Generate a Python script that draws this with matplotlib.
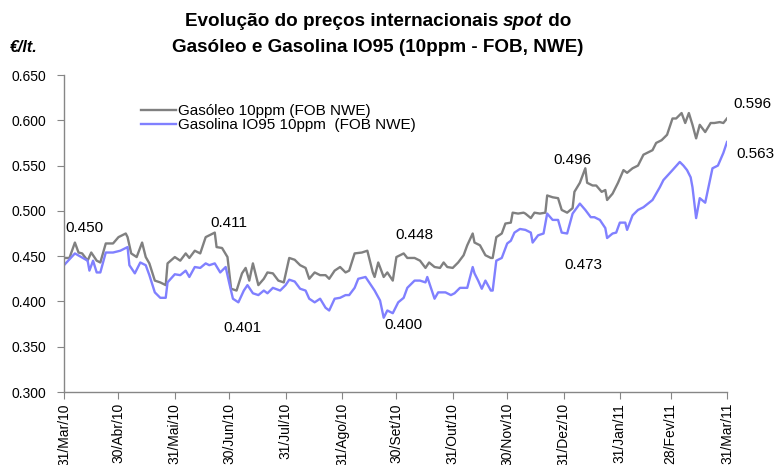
import numpy as np
import pandas as pd
import matplotlib
matplotlib.use("Agg")
import matplotlib.pyplot as plt
from matplotlib.ticker import FormatStrFormatter

# data (days counted from 31/Mar/10, prices in EUR/lt)
start = pd.Timestamp("2010-03-31")

gas_day = [0, 3, 6, 8, 10, 13, 15, 18, 20, 23, 27, 30, 34, 35, 37, 40, 43, 45, 47, 50,
           53, 56, 57, 61, 64, 67, 69, 72, 75, 78, 80, 83, 84, 87, 90, 92, 95, 98, 100, 102,
           104, 107, 110, 112, 115, 118, 121, 124, 127, 130, 133, 135, 138, 141, 144, 146, 149, 152, 155, 157,
           160, 164, 167, 170, 171, 173, 176, 178, 181, 183, 187, 189, 193, 196, 199, 201, 204, 207, 209, 211,
           214, 217, 220, 222, 225, 226, 229, 232, 235, 236, 238, 241, 243, 246, 247, 250, 253, 254, 257, 259,
           262, 265, 266, 269, 272, 274, 277, 280, 281, 284, 287, 288, 291, 293, 296, 298, 299, 302, 305, 308,
           310, 313, 316, 319, 321, 324, 326, 329, 332, 335, 337, 340, 342, 344, 346, 348, 350, 353, 356, 358,
           361, 363, 365]
gas_val = [0.448, 0.448, 0.465, 0.454, 0.453, 0.445, 0.454, 0.445, 0.443, 0.464, 0.464, 0.471, 0.475, 0.471, 0.453, 0.449, 0.465, 0.449, 0.442, 0.423,
           0.421, 0.418, 0.442, 0.449, 0.445, 0.453, 0.448, 0.456, 0.453, 0.471, 0.473, 0.476, 0.460, 0.459, 0.449, 0.414, 0.412, 0.431, 0.437, 0.423,
           0.442, 0.418, 0.425, 0.432, 0.431, 0.423, 0.421, 0.448, 0.446, 0.440, 0.437, 0.425, 0.432, 0.429, 0.429, 0.425, 0.434, 0.438, 0.432, 0.434,
           0.453, 0.454, 0.456, 0.432, 0.427, 0.443, 0.427, 0.432, 0.423, 0.449, 0.453, 0.448, 0.448, 0.445, 0.437, 0.443, 0.438, 0.437, 0.443, 0.438,
           0.437, 0.443, 0.451, 0.462, 0.475, 0.465, 0.462, 0.451, 0.448, 0.448, 0.471, 0.475, 0.486, 0.487, 0.498, 0.497, 0.498, 0.497, 0.492, 0.498,
           0.497, 0.498, 0.517, 0.515, 0.514, 0.501, 0.498, 0.503, 0.521, 0.531, 0.547, 0.531, 0.528, 0.528, 0.521, 0.523, 0.512, 0.519, 0.531, 0.545,
           0.542, 0.547, 0.550, 0.562, 0.564, 0.567, 0.575, 0.578, 0.584, 0.602, 0.602, 0.608, 0.597, 0.608, 0.595, 0.580, 0.595, 0.587, 0.597, 0.597,
           0.598, 0.597, 0.602]

pet_day = [0, 6, 13, 14, 16, 18, 20, 23, 27, 31, 35, 36, 39, 42, 45, 47, 50, 53, 56, 57,
           61, 64, 67, 69, 72, 75, 78, 80, 83, 86, 89, 91, 93, 96, 99, 101, 104, 107, 110, 112,
           115, 119, 122, 124, 127, 130, 133, 135, 138, 141, 144, 146, 149, 152, 155, 157, 160, 162, 166, 168,
           171, 174, 176, 178, 181, 184, 187, 189, 193, 196, 199, 200, 203, 204, 206, 210, 213, 215, 218, 222,
           225, 226, 228, 230, 232, 235, 236, 238, 241, 244, 246, 248, 251, 254, 257, 258, 261, 264, 266, 269,
           272, 274, 277, 280, 284, 287, 290, 292, 295, 298, 299, 302, 304, 306, 309, 310, 313, 316, 319, 324,
           328, 330, 335, 339, 341, 343, 345, 346, 348, 350, 353, 355, 357, 360, 363, 365]
pet_val = [0.440, 0.453, 0.445, 0.434, 0.445, 0.432, 0.432, 0.454, 0.454, 0.456, 0.460, 0.440, 0.431, 0.443, 0.440, 0.429, 0.410, 0.404, 0.404, 0.421,
           0.430, 0.429, 0.434, 0.427, 0.438, 0.437, 0.442, 0.440, 0.442, 0.432, 0.438, 0.420, 0.403, 0.399, 0.412, 0.418, 0.409, 0.407, 0.412, 0.409,
           0.415, 0.412, 0.418, 0.424, 0.422, 0.414, 0.412, 0.403, 0.399, 0.403, 0.393, 0.390, 0.403, 0.404, 0.407, 0.407, 0.415, 0.425, 0.427, 0.421,
           0.412, 0.401, 0.382, 0.390, 0.387, 0.399, 0.404, 0.415, 0.423, 0.423, 0.421, 0.427, 0.409, 0.403, 0.410, 0.410, 0.407, 0.409, 0.415, 0.415,
           0.438, 0.431, 0.423, 0.414, 0.423, 0.412, 0.412, 0.445, 0.448, 0.464, 0.467, 0.476, 0.480, 0.479, 0.476, 0.465, 0.473, 0.475, 0.497, 0.490,
           0.490, 0.476, 0.475, 0.497, 0.508, 0.501, 0.493, 0.493, 0.490, 0.481, 0.470, 0.475, 0.476, 0.487, 0.487, 0.479, 0.495, 0.501, 0.504, 0.512,
           0.526, 0.534, 0.545, 0.554, 0.550, 0.545, 0.537, 0.526, 0.492, 0.514, 0.509, 0.528, 0.547, 0.550, 0.564, 0.576]

tick_dates = ["2010-03-31", "2010-04-30", "2010-05-31", "2010-06-30", "2010-07-31", "2010-08-31", "2010-09-30",
              "2010-10-31", "2010-11-30", "2010-12-31", "2011-01-31", "2011-02-28", "2011-03-31"]
tick_labels = ["31/Mar/10", "30/Abr/10", "31/Mai/10", "30/Jun/10", "31/Jul/10", "31/Ago/10", "30/Set/10",
               "31/Out/10", "30/Nov/10", "31/Dez/10", "31/Jan/11", "28/Fev/11", "31/Mar/11"]

# value labels: date, value, text, offset (px)
lab_dates = ["2010-03-31", "2010-06-30", "2010-06-30", "2010-09-30", "2010-09-30", "2010-12-31", "2010-12-31", "2011-03-31", "2011-03-31"]
lab_vals = [0.450, 0.411, 0.401, 0.448, 0.400, 0.496, 0.473, 0.596, 0.563]
lab_off = [(20, 28), (0, 68), (13, -27), (18, 23), (7, -24), (9, 54), (20, -30), (25, 20), (28, 0)]

# style setup
plt.rcParams['font.family'] = 'Liberation Sans'
plt.rcParams['font.size'] = 10

gray = "#808080"
blue = "#8080FF"
axis_col = "#868686"

fig = plt.figure(figsize=(7.77, 4.65), dpi=100)
ax = fig.add_axes([64 / 777, 1 - 392 / 465, (727 - 64) / 777, (392 - 75) / 465])

ax.plot(start + pd.to_timedelta(gas_day, unit="D"), gas_val, color=gray, linewidth=1.7,
        label="Gasóleo 10ppm (FOB NWE)")
ax.plot(start + pd.to_timedelta(pet_day, unit="D"), pet_val, color=blue, linewidth=1.7,
        label="Gasolina IO95 10ppm  (FOB NWE)")

ax.set_xlim(start, pd.Timestamp("2011-03-31"))
ax.set_ylim(0.30, 0.65)
ax.set_yticks(np.arange(0.30, 0.651, 0.05))
ax.yaxis.set_major_formatter(FormatStrFormatter("%.3f"))
ax.set_xticks(pd.to_datetime(tick_dates))
ax.set_xticklabels(tick_labels, rotation=90, ha="center", va="top")

for s in ["top", "right"]:
    ax.spines[s].set_visible(False)
for s in ["left", "bottom"]:
    ax.spines[s].set_color(axis_col)
    ax.spines[s].set_linewidth(1.0)
ax.tick_params(axis="both", direction="out", length=5, color=axis_col, labelsize=10)
ax.tick_params(axis="y", pad=8)
ax.tick_params(axis="x", pad=3)

for d, v, t, (dx, dy) in zip(lab_dates, lab_vals, [f"{x:.3f}" for x in lab_vals], lab_off):
    ax.annotate(t, xy=(pd.Timestamp(d), v), xytext=(dx, dy), textcoords="offset pixels",
                ha="center", va="center", fontsize=11, annotation_clip=False)

ax.legend(loc="upper left", bbox_to_anchor=(141 / 777, 1 - 104 / 465), bbox_transform=fig.transFigure,
          frameon=False, fontsize=11, handlelength=2.3, handletextpad=0.15, labelspacing=0.0,
          borderpad=0, borderaxespad=0)

# title (line 1 has "spot" in italic)
cx = 378
r = fig.canvas.get_renderer()
parts = [("Evolução do preços internacionais ", "normal"), ("spot", "italic"), (" do", "normal")]
texts = [fig.text(0, 0, p, fontsize=13.6, fontweight="bold", style=st, va="center") for p, st in parts]
widths = [t.get_window_extent(r).width for t in texts]
x0 = cx - sum(widths) / 2
for t, w in zip(texts, widths):
    t.set_position((x0 / 777, 1 - 22 / 465))
    x0 += w
fig.text(cx / 777, 1 - 47 / 465, "Gasóleo e Gasolina IO95 (10ppm - FOB, NWE)", fontsize=13.6,
         fontweight="bold", ha="center", va="center")
fig.text(10 / 777, 1 - 47 / 465, "€/lt.", fontsize=11.5, fontweight="bold", style="italic",
         ha="left", va="center")

plt.savefig("out.png", dpi=100)
plt.close()
